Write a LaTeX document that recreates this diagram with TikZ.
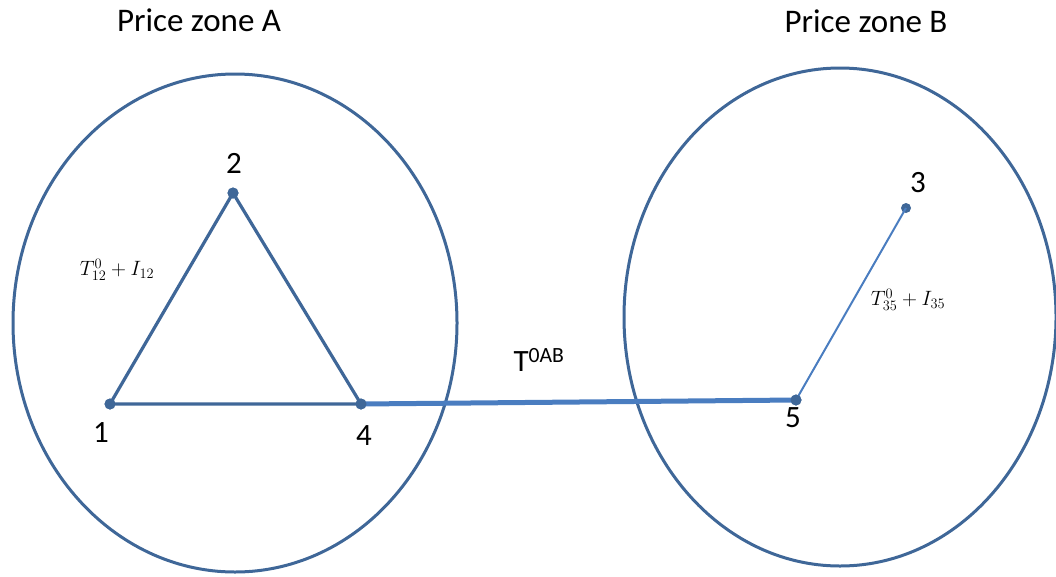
\documentclass[tikz,border=0pt]{standalone}
\usepackage{fontspec}
\usetikzlibrary{shapes.geometric}
\setmainfont{Carlito}
\definecolor{zoneblue}{HTML}{3F6798}
\definecolor{linkblue}{HTML}{4A7DC0}
\begin{document}
\begin{tikzpicture}[x=1pt,y=-1pt,
  zone/.style={ellipse,draw=zoneblue,line width=3pt,inner sep=0pt},
  bus/.style={circle,fill=zoneblue,inner sep=0pt,minimum size=11pt},
  tri/.style={draw=zoneblue,line width=3.2pt,line join=round},
  tie/.style={draw=linkblue,line width=5pt},
  thin/.style={draw=linkblue,line width=2pt},
  num/.style={font=\fontsize{31}{34}\selectfont},
  title/.style={font=\fontsize{33}{38}\selectfont},
  mlab/.style={font=\fontsize{20}{24}\selectfont}]
\useasboundingbox (0,0) rectangle (1056,576);
\node[zone,minimum width=444pt,minimum height=498pt] (zoneA) at (235,323) {};
\node[zone,minimum width=432pt,minimum height=498pt] (zoneB) at (840,317) {};
\node[bus] (n1) at (110,404) {};
\node[bus] (n2) at (233,193) {};
\node[bus] (n4) at (361,404) {};
\node[bus] (n5) at (796,400) {};
\node[bus,minimum size=10pt] (n3) at (906,208) {};
\draw[tie] (n4.center) -- (n5.center);
\draw[thin] (n5.center) -- (n3.center);
\draw[tri] (n1.center) -- (n2.center) -- (n4.center) -- cycle;
\node[bus] at (n1) {};
\node[bus] at (n2) {};
\node[bus] at (n4) {};
\node[bus] at (n5) {};
\node[num] (l1) at (101,433) {1};
\node[num] (l2) at (234,163) {2};
\node[num] (l4) at (364,436) {4};
\node[num] (l5) at (793,418) {5};
\node[num] (l3) at (918,183) {3};
\node[title] (tA) at (199,20) {Price zone A};
\node[title] (tB) at (866,21) {Price zone B};
\node[font=\fontsize{31}{34}\selectfont] (tab) at (539,360) {T\textsuperscript{0AB}};
\node[mlab] (m12) at (117,270) {$T_{12}^{0}+I_{12}$};
\node[mlab] (m35) at (908,300) {$T_{35}^{0}+I_{35}$};
\end{tikzpicture}
\end{document}
